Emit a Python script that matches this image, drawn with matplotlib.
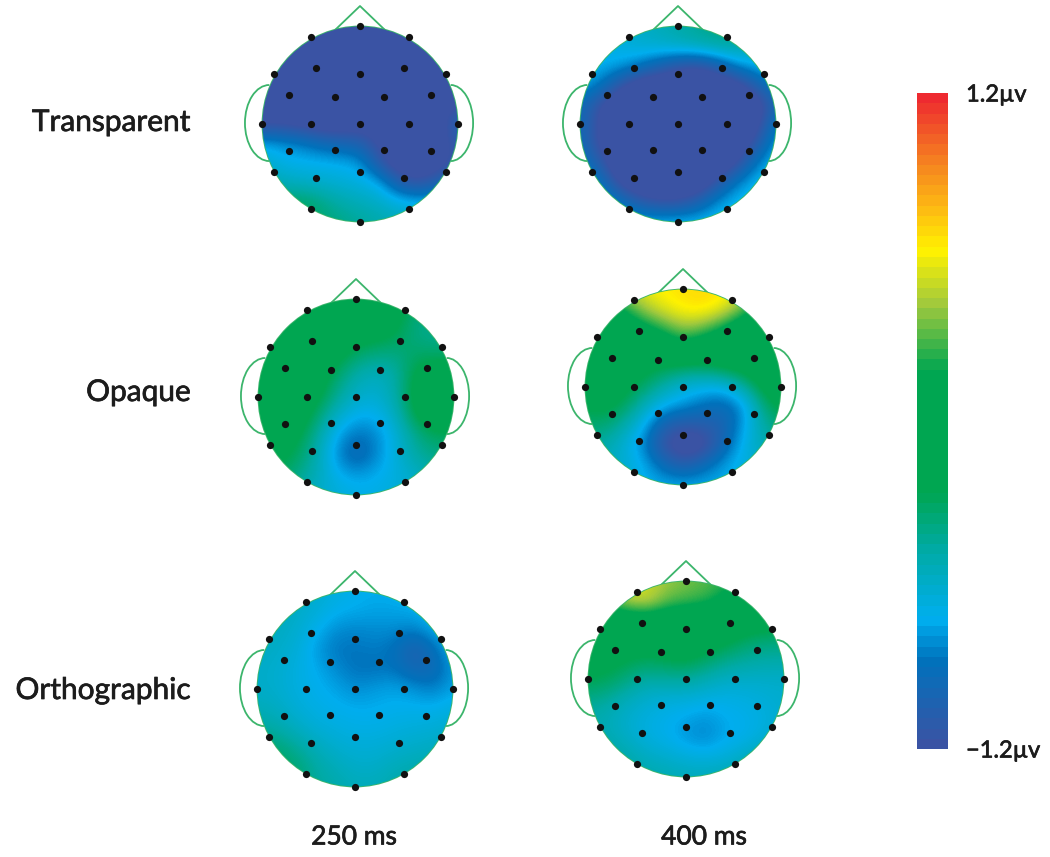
import numpy as np
import matplotlib
matplotlib.use("Agg")
import matplotlib.pyplot as plt
import matplotlib.patheffects as pe
from matplotlib.colors import LinearSegmentedColormap, Normalize
from matplotlib.cm import ScalarMappable
from matplotlib.patches import Circle, Arc

plt.rcParams['font.family'] = ['Lato', 'DejaVu Sans']

W, H = 1050, 857
VMIN, VMAX = -1.2, 1.2

row_labels = ["Transparent", "Opaque", "Orthographic"]
col_labels = ["250 ms", "400 ms"]
bar_labels = ["\u22121.2\u00b5v", "1.2\u00b5v"]

# electrode positions, head radius = 1
elec_x = [0, -0.50, 0.50, -0.88, 0.88, -0.45, 0.45, 0, -0.73, 0.73, -0.26, 0.25,
          -1.01, -0.50, 0, 0.50, 1.01, -0.73, 0.73, -0.26, 0.25,
          -0.88, 0.88, -0.45, 0.45, 0, -0.50, 0.50, 0]
elec_y = [1.01, 0.89, 0.89, 0.51, 0.51, 0.57, 0.57, 0.51, 0.30, 0.30, 0.28, 0.28,
          0, 0, 0, 0, 0, -0.28, -0.28, -0.27, -0.27,
          -0.49, -0.49, -0.55, -0.55, -0.49, -0.87, -0.87, -1.01]

# potential in microvolts, rows v = 1 ... -1, columns u = -1 ... 1
transparent_250 = [
    [-1.3, -1.3, -1.3, -1.3, -1.3, -1.3, -1.3, -1.3, -1.3, -1.3, -1.3],
    [-1.3, -1.3, -1.3, -1.3, -1.3, -1.3, -1.3, -1.3, -1.3, -1.3, -1.3],
    [-1.3, -1.3, -1.3, -1.3, -1.3, -1.3, -1.3, -1.3, -1.3, -1.3, -1.3],
    [-1.3, -1.3, -1.3, -1.3, -1.3, -1.3, -1.3, -1.3, -1.3, -1.3, -1.3],
    [-1.3, -1.3, -1.3, -1.3, -1.3, -1.3, -1.3, -1.3, -1.3, -1.3, -1.2],
    [-1.25, -1.25, -1.3, -1.35, -1.35, -1.3, -1.3, -1.3, -1.3, -1.3, -1.0],
    [-0.75, -0.8, -0.85, -0.95, -1.0, -1.05, -1.25, -1.3, -1.3, -1.3, -1.1],
    [-0.6, -0.7, -0.72, -0.72, -0.74, -0.78, -1.15, -1.35, -1.35, -1.3, -1.1],
    [-0.5, -0.55, -0.6, -0.62, -0.65, -0.68, -0.75, -1.1, -1.2, -1.05, -0.9],
    [-0.3, -0.35, -0.3, -0.4, -0.5, -0.55, -0.6, -0.68, -0.72, -0.7, -0.7],
    [-0.3, -0.3, -0.3, -0.35, -0.4, -0.45, -0.5, -0.55, -0.6, -0.6, -0.6],
]
transparent_400 = [
    [-0.6, -0.6, -0.65, -0.6, -0.55, -0.5, -0.45, -0.4, -0.45, -0.5, -0.5],
    [-0.7, -0.7, -0.68, -0.62, -0.6, -0.55, -0.5, -0.45, -0.45, -0.55, -0.6],
    [-0.7, -0.72, -0.74, -0.85, -1.0, -1.15, -1.2, -1.05, -0.8, -0.72, -0.65],
    [-0.74, -0.85, -1.15, -1.35, -1.4, -1.4, -1.4, -1.4, -1.3, -1.05, -0.8],
    [-0.95, -1.2, -1.4, -1.4, -1.4, -1.4, -1.4, -1.4, -1.4, -1.35, -1.0],
    [-0.95, -1.25, -1.4, -1.4, -1.4, -1.4, -1.4, -1.4, -1.4, -1.3, -0.85],
    [-0.95, -1.25, -1.4, -1.4, -1.4, -1.4, -1.4, -1.4, -1.35, -1.15, -0.74],
    [-0.85, -1.1, -1.4, -1.4, -1.4, -1.4, -1.4, -1.4, -1.25, -0.85, -0.7],
    [-0.74, -0.9, -1.25, -1.4, -1.4, -1.4, -1.4, -1.15, -0.85, -0.7, -0.68],
    [-0.7, -0.75, -0.9, -1.1, -1.2, -1.2, -1.05, -0.8, -0.7, -0.66, -0.62],
    [-0.66, -0.68, -0.7, -0.72, -0.72, -0.7, -0.7, -0.68, -0.66, -0.62, -0.58],
]
opaque_250 = [
    [-0.1, -0.1, -0.1, -0.1, -0.1, -0.1, -0.1, -0.15, -0.3, -0.4, -0.4],
    [-0.1, -0.1, -0.1, -0.1, -0.1, -0.1, -0.1, -0.2, -0.38, -0.42, -0.45],
    [-0.1, -0.1, -0.1, -0.1, -0.1, -0.18, -0.22, -0.28, -0.38, -0.42, -0.42],
    [-0.1, -0.1, -0.1, -0.12, -0.2, -0.36, -0.42, -0.42, -0.3, -0.3, -0.3],
    [-0.1, -0.1, -0.1, -0.14, -0.34, -0.52, -0.58, -0.5, -0.22, -0.1, -0.1],
    [-0.1, -0.1, -0.1, -0.2, -0.44, -0.6, -0.64, -0.5, -0.18, -0.05, -0.05],
    [-0.1, -0.1, -0.12, -0.34, -0.6, -0.74, -0.74, -0.58, -0.25, -0.1, -0.1],
    [-0.15, -0.15, -0.22, -0.46, -0.76, -0.9, -0.84, -0.66, -0.42, -0.3, -0.3],
    [-0.2, -0.2, -0.3, -0.52, -0.82, -1.0, -0.84, -0.66, -0.48, -0.4, -0.4],
    [-0.3, -0.3, -0.4, -0.55, -0.72, -0.78, -0.74, -0.68, -0.6, -0.5, -0.5],
    [-0.4, -0.4, -0.5, -0.6, -0.65, -0.7, -0.7, -0.65, -0.6, -0.55, -0.55],
]
opaque_400 = [
    [0.2, 0.3, 0.45, 0.6, 0.65, 0.68, 0.7, 0.68, 0.55, 0.3, 0.15],
    [-0.05, 0.05, 0.22, 0.45, 0.58, 0.66, 0.68, 0.6, 0.36, 0.05, -0.05],
    [-0.1, -0.1, -0.05, 0.1, 0.25, 0.42, 0.35, 0.15, -0.05, -0.1, -0.1],
    [-0.1, -0.1, -0.1, -0.1, -0.05, 0.08, -0.05, -0.1, -0.1, -0.1, -0.1],
    [-0.15, -0.12, -0.15, -0.2, -0.25, -0.3, -0.3, -0.2, -0.15, -0.1, -0.1],
    [-0.2, -0.15, -0.2, -0.32, -0.5, -0.65, -0.7, -0.72, -0.5, -0.2, -0.1],
    [-0.25, -0.2, -0.3, -0.55, -0.75, -0.8, -0.9, -0.95, -0.85, -0.4, -0.2],
    [-0.35, -0.35, -0.5, -0.75, -1.05, -1.15, -1.1, -1.05, -0.8, -0.5, -0.35],
    [-0.45, -0.5, -0.65, -0.85, -1.2, -1.35, -1.3, -1.0, -0.72, -0.55, -0.45],
    [-0.55, -0.55, -0.62, -0.74, -0.95, -1.1, -0.95, -0.78, -0.68, -0.6, -0.5],
    [-0.6, -0.6, -0.65, -0.72, -0.74, -0.74, -0.74, -0.74, -0.72, -0.65, -0.6],
]
ortho_250 = [
    [-0.55, -0.55, -0.58, -0.62, -0.68, -0.72, -0.74, -0.72, -0.68, -0.65, -0.6],
    [-0.55, -0.55, -0.6, -0.65, -0.72, -0.74, -0.76, -0.76, -0.74, -0.68, -0.65],
    [-0.55, -0.58, -0.62, -0.72, -0.82, -0.84, -0.82, -0.82, -0.85, -0.75, -0.68],
    [-0.58, -0.6, -0.65, -0.78, -0.88, -0.88, -0.86, -0.9, -1.08, -0.92, -0.72],
    [-0.6, -0.62, -0.68, -0.74, -0.82, -0.89, -0.89, -0.88, -1.0, -0.98, -0.78],
    [-0.6, -0.62, -0.68, -0.72, -0.76, -0.82, -0.78, -0.76, -0.8, -0.86, -0.76],
    [-0.55, -0.58, -0.65, -0.7, -0.72, -0.74, -0.74, -0.72, -0.72, -0.72, -0.68],
    [-0.45, -0.5, -0.58, -0.65, -0.68, -0.7, -0.7, -0.68, -0.66, -0.65, -0.62],
    [-0.35, -0.35, -0.45, -0.55, -0.62, -0.65, -0.65, -0.62, -0.6, -0.58, -0.55],
    [-0.3, -0.3, -0.35, -0.48, -0.55, -0.6, -0.6, -0.55, -0.52, -0.5, -0.5],
    [-0.3, -0.3, -0.35, -0.45, -0.5, -0.55, -0.55, -0.5, -0.48, -0.48, -0.48],
]
ortho_400 = [
    [0.5, 0.5, 0.55, 0.5, 0.42, 0.36, 0.32, 0.26, 0.15, 0.0, -0.1],
    [0.1, 0.32, 0.5, 0.55, 0.34, 0.3, 0.26, 0.12, -0.02, -0.1, -0.1],
    [-0.1, -0.1, -0.05, -0.02, -0.05, -0.08, -0.1, -0.1, -0.12, -0.15, -0.15],
    [-0.15, -0.15, -0.15, -0.15, -0.12, -0.12, -0.15, -0.2, -0.3, -0.35, -0.35],
    [-0.2, -0.2, -0.25, -0.28, -0.25, -0.22, -0.3, -0.4, -0.45, -0.48, -0.48],
    [-0.25, -0.28, -0.38, -0.48, -0.45, -0.45, -0.52, -0.58, -0.6, -0.6, -0.6],
    [-0.4, -0.45, -0.55, -0.62, -0.65, -0.65, -0.68, -0.7, -0.68, -0.65, -0.62],
    [-0.5, -0.55, -0.62, -0.68, -0.72, -0.76, -0.8, -0.74, -0.72, -0.68, -0.62],
    [-0.5, -0.52, -0.6, -0.68, -0.72, -0.8, -0.84, -0.75, -0.72, -0.65, -0.6],
    [-0.45, -0.45, -0.5, -0.58, -0.62, -0.66, -0.68, -0.66, -0.58, -0.5, -0.45],
    [-0.45, -0.45, -0.48, -0.5, -0.52, -0.55, -0.55, -0.52, -0.48, -0.42, -0.4],
]

maps = [transparent_250, transparent_400, opaque_250, opaque_400, ortho_250, ortho_400]
# head centres in pixels
centres = [(360, 124), (678, 124), (356, 397), (683, 387), (355, 689), (686, 679)]
RADIUS = 97.5
HEAD_GREEN = "#3cb56c"

stops = [(0.0, "#3a53a4"), (0.13, "#0072bc"), (0.193, "#00aeef"), (0.30, "#00aaa5"),
         (0.39, "#00a651"), (0.578, "#00a651"), (0.68, "#a0c93d"), (0.764, "#fff200"),
         (0.83, "#fdb913"), (0.90, "#f58220"), (1.0, "#ee2a30")]
cmap_maps = LinearSegmentedColormap.from_list("erp", stops, N=256)
cmap_bar = LinearSegmentedColormap.from_list("erp_bar", stops, N=64)
norm = Normalize(VMIN, VMAX)

fig = plt.figure(figsize=(W / 100, H / 100), dpi=100)


def head_axes(cx, cy):
    half = 1.3 * RADIUS
    ax = fig.add_axes([(cx - half) / W, 1 - (cy + half) / H, 2 * half / W, 2 * half / H])
    ax.set_xlim(-1.3, 1.3)
    ax.set_ylim(-1.3, 1.3)
    ax.axis("off")
    return ax


for grid, (cx, cy) in zip(maps, centres):
    ax = head_axes(cx, cy)
    # outline
    ax.add_patch(Circle((0, 0), 1.0, fc="none", ec=HEAD_GREEN, lw=1.3, zorder=1))
    ax.plot([-0.25, 0, 0.25], [0.97, 1.21, 0.97], color=HEAD_GREEN, lw=1.3, zorder=1)
    ax.add_patch(Arc((-0.93, 0.01), 0.5, 0.78, theta1=90, theta2=270, ec=HEAD_GREEN, lw=1.3, zorder=1))
    ax.add_patch(Arc((0.93, 0.01), 0.46, 0.78, theta1=-90, theta2=90, ec=HEAD_GREEN, lw=1.3, zorder=1))
    im = ax.imshow(grid, cmap=cmap_maps, norm=norm, extent=[-1.1, 1.1, -1.1, 1.1], origin="upper",
                   interpolation="bicubic", interpolation_stage="data", zorder=2, aspect="auto")
    im.set_clip_path(Circle((0, 0), 1.0, transform=ax.transData))
    ax.scatter(elec_x, elec_y, s=27, c="#111111", lw=0, zorder=3, clip_on=False)

# row and column labels
text_color = "#1c1c1c"
heavier = [pe.withStroke(linewidth=0.5, foreground=text_color)]
for lab, y in zip(row_labels, [122, 392, 690]):
    fig.text(191 / W, 1 - y / H, lab, ha="right", va="center", fontsize=21.5, color=text_color,
             path_effects=heavier)
for lab, x in zip(col_labels, [354, 704]):
    fig.text(x / W, 1 - 837 / H, lab, ha="center", va="center", fontsize=19, color=text_color,
             path_effects=heavier)

# colour bar
cax = fig.add_axes([917 / W, 1 - 749 / H, 31 / W, 656 / H])
cb = fig.colorbar(ScalarMappable(norm=norm, cmap=cmap_bar), cax=cax)
cb.outline.set_visible(False)
cb.set_ticks([VMIN, VMAX])
cb.set_ticklabels(bar_labels)
cb.ax.tick_params(length=0, pad=13, labelsize=17, labelcolor=text_color)
for t in cb.ax.get_yticklabels():
    t.set_path_effects(heavier)

fig.savefig("out.png", dpi=100)
